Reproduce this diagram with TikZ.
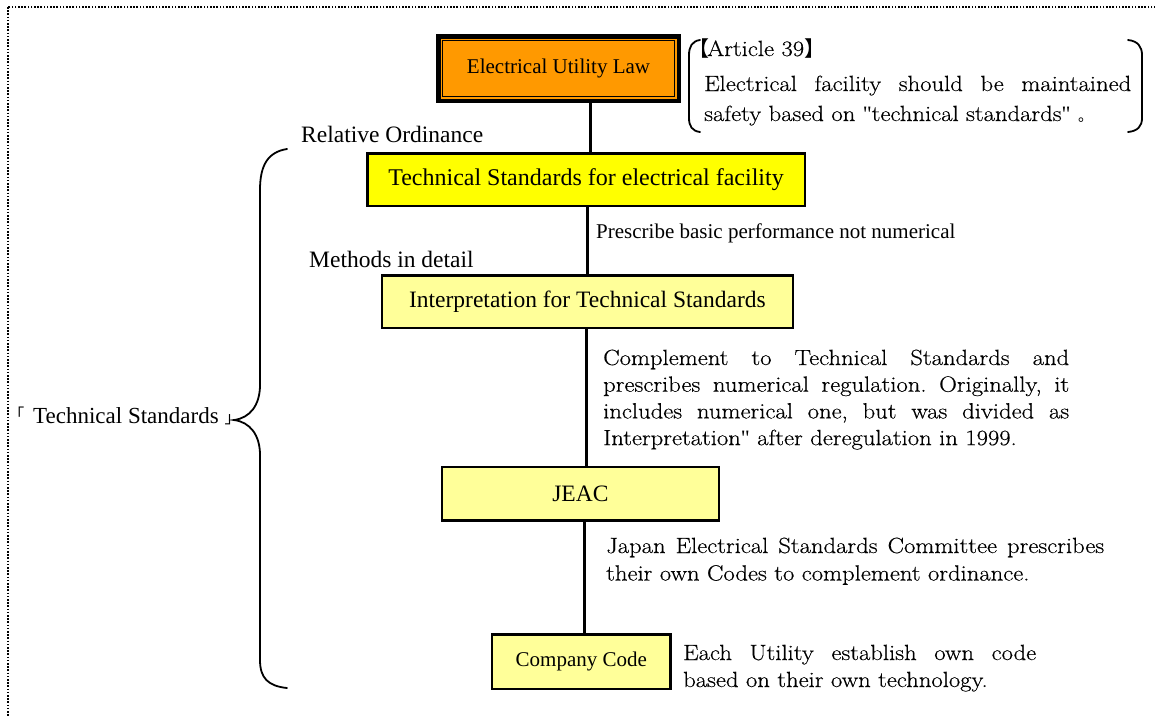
\documentclass[tikz,border=0pt]{standalone}
\usepackage{fontspec}
\newfontfamily\tnr{Liberation Serif}
\newfontfamily\cjk{Noto Sans CJK JP}
\newfontfamily\descfont{Latin Modern Roman}[FakeStretch=1.12, FakeBold=0.4]
\definecolor{laworange}{HTML}{FF9900}
\definecolor{stdyellow}{HTML}{FFFF00}
\definecolor{paleyellow}{HTML}{FFFF99}
\newcommand{\fsz}[2]{\fontsize{#1}{#2}\selectfont}
\newcommand{\sq}{{\tnr"}}
\frenchspacing
\tikzset{
  frame/.style={line width=1.6pt, dash pattern=on 1.6pt off 1.6pt},
  box/.style={draw=black, line width=2.5pt, fill=paleyellow, inner sep=0pt, outer sep=0pt},
  lawbox/.style={draw=black, line width=4.5pt, fill=laworange, inner sep=0pt, outer sep=0pt,
    minimum width=240.5pt, minimum height=64.5pt, font=\tnr\fsz{21}{25}},
  link/.style={line width=3pt},
  curly/.style={line width=1.8pt, line cap=round},
  lbl/.style={inner sep=0pt, anchor=base west},
  desc/.style={inner sep=0pt, anchor=base west, align=justify},
}
\begin{document}
\begin{tikzpicture}[x=1pt,y=-1pt]
\useasboundingbox (0,0) rectangle (1155,716);
\clip (0,0) rectangle (1155,716);
% dotted page frame
\draw[frame] (8,7) rectangle (1180,740);

% the law and its article
\node[lawbox] (law) at (558.5,68.5) {Electrical Utility Law};
\draw[line width=1pt] ([shift={(4.3,4.3)}]law.north west) rectangle ([shift={(-4.3,-4.3)}]law.south east);

\draw[curly] (700,40) .. controls (692,41) and (689,47) .. (689,55) -- (689,118) .. controls (689,126) and (692,131) .. (700,132);
\draw[curly] (1128,40) .. controls (1138,41) and (1142,47) .. (1142,55) -- (1142,118) .. controls (1142,126) and (1138,131) .. (1128,132);
\node[lbl, font=\descfont\fsz{22}{25}] (arthead) at (688,56) {{\cjk\fsz{21}{25}【}\kern-2pt Article 39{\cjk\fsz{21}{25}】}};
\node[desc, text width=427pt, font=\descfont\fsz{22}{30}] (arttext) at (704,91)
  {Electrical facility should be maintained\linebreak safety based on \sq technical standards\sq{} {\cjk\fsz{15}{15}。}};

% hierarchy of standards
\node[box, fill=stdyellow, minimum width=437.5pt, minimum height=52.5pt, font=\tnr\fsz{24}{28}] (tech) at (586,179.5)
  {Technical Standards for electrical facility};
\node[box, minimum width=410.8pt, minimum height=52.2pt, font=\tnr\fsz{23.5}{28}] (interp) at (587.4,301.7)
  {Interpretation for Technical Standards};
\node[box, minimum width=276.8pt, minimum height=53.2pt, font=\tnr\fsz{23.5}{28}] (jeac) at (580.4,493.8)
  {JEAC};
\node[box, minimum width=178.2pt, minimum height=54.5pt, font=\tnr\fsz{21}{25}] (company) at (581.3,661.5)
  {Company Code};

% spine connectors
\coordinate (c1) at (590,0);
\coordinate (c2) at (587,0);
\coordinate (c3) at (586,0);
\coordinate (c4) at (584,0);
\draw[link] (law.south -| c1) -- (tech.north -| c1);
\draw[link] (tech.south -| c2) -- (interp.north -| c2);
\draw[link] (interp.south -| c3) -- (jeac.north -| c3);
\draw[link] (jeac.south -| c4) -- (company.north -| c4);

% captions
\node[lbl, font=\tnr\fsz{23.5}{28}] (rel) at (301,142) {Relative Ordinance};
\node[lbl, font=\tnr\fsz{21}{25}] (presc) at (596,238) {Prescribe basic performance not numerical};
\node[lbl, font=\tnr\fsz{23.5}{28}] (meth) at (309,267) {Methods in detail};

\node[desc, text width=466pt, font=\descfont\fsz{22}{26.7}] (compl) at (603,365)
  {Complement to Technical Standards and\linebreak prescribes numerical regulation. Originally, it\linebreak includes numerical one, but was divided as\linebreak Interpretation\sq{} after deregulation in 1999.};
\node[desc, text width=498pt, font=\descfont\fsz{22}{27.5}] (jeacdesc) at (606,553)
  {Japan Electrical Standards Committee prescribes\linebreak their own Codes to complement ordinance.};
\node[desc, text width=353pt, font=\descfont\fsz{22}{27}] (compdesc) at (683,660)
  {Each Utility establish own code\linebreak based on their own technology.};

% brace grouping the technical standards
\node[lbl, font=\tnr\fsz{23}{28}] (techstd) at (8.2,423)
  {{\cjk\fsz{16}{16}\raisebox{3pt}{「}}\kern 8.8pt Technical Standards\kern 6pt{\cjk\fsz{16}{16}」}};
\draw[curly] (287,149) .. controls (268,152) and (260,165) .. (260,190) -- (260,385)
  .. controls (260,405) and (250,418) .. (234,420)
  .. controls (250,422) and (260,435) .. (260,455) -- (260,660)
  .. controls (260,678) and (268,686) .. (287,688);
\end{tikzpicture}
\end{document}
